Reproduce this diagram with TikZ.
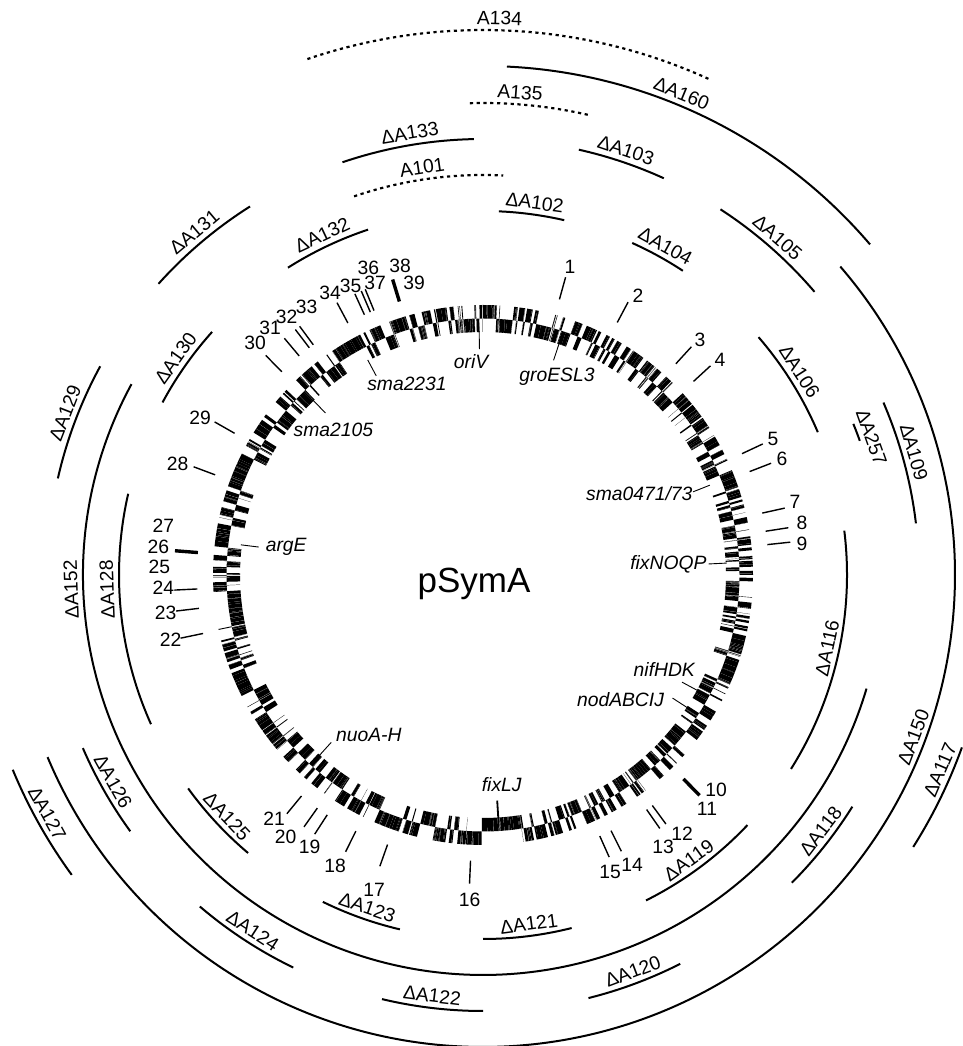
\documentclass[tikz,border=0pt]{standalone}
\usepackage{fontspec}
\setmainfont{Liberation Sans}
\newcommand\myarc[3]{\draw[arcl] (#2:#1) arc[start angle=#2, end angle=#3, radius=#1];}
\newcommand\mydot[3]{\draw[dotl] (#2:#1) arc[start angle=#2, end angle=#3, radius=#1];}
\newcommand\toplab[4]{\node[lab,anchor=base,rotate=#2-90] (#4) at (#2:#1) {#3};}
\newcommand\botlab[4]{\node[lab,anchor=base,rotate=#2+90] (#4) at (#2:#1) {#3};}
\newcommand\ntick[2][]{\draw[tk,#1] (#2:286) -- (#2:309);}
\newcommand\gtick[2][]{\draw[gtk,#1] (#2:226) -- (#2:244);}
\begin{document}
\begin{tikzpicture}[x=1pt,y=1pt,
  arcl/.style={line width=2pt},
  dotl/.style={line width=2.2pt, dash pattern=on 3.2pt off 3.6pt},
  tk/.style={line width=1.4pt},
  gtk/.style={line width=0.9pt},
  thk/.style={line width=3.4pt},
  lab/.style={font=\fontsize{19.3}{21}\selectfont, inner sep=0pt},
  num/.style={font=\fontsize{19.3}{21}\selectfont, inner sep=0pt},
  gene/.style={font=\fontsize{19.3}{21}\selectfont\itshape, inner sep=0pt},
]
\useasboundingbox (0,0) rectangle (962,1046);
\fill[white] (0,0) rectangle (962,1046);
\begin{scope}[shift={(483,471)}]
% ---- gene ring ----
\pgfmathsetseed{11}
\gdef\gA{0}
\gdef\gS{1}
\foreach \i in {1,...,1600}{%
  \pgfmathsetmacro\gu{rnd}%
  \pgfmathsetmacro\gL{0.03+1.2*\gu*\gu*\gu}%
  \pgfmathsetmacro\gv{rnd}%
  \pgfmathsetmacro\gG{0.006+0.06*\gv*\gv*\gv*\gv}%
  \pgfmathsetmacro\gR{rnd}%
  \pgfmathsetmacro\gN{ifthenelse(\gR<0.3,1-\gS,\gS)}%
  \pgfmathsetmacro\gB{\gA+\gL}%
  \ifdim\gB pt<360pt
    \ifdim\gN pt>0.5pt
      \fill (\gA:256.5) -- (\gA:270) -- (\gB:270) -- (\gB:256.5) -- cycle;
    \else
      \fill (\gA:243) -- (\gA:256.5) -- (\gB:256.5) -- (\gB:243) -- cycle;
    \fi
  \fi
  \pgfmathsetmacro\gC{\gB+\gG}%
  \xdef\gA{\gC}%
  \xdef\gS{\gN}%
}
% ---- arcs ----
\mydot{545}{108.8}{65.4}
\myarc{509}{87.3}{40.5}
\mydot{472}{91.6}{76.9}
\myarc{436}{108.8}{91.2}
\myarc{436}{77.3}{65.5}
\myarc{436}{57}{40.5}
\mydot{400}{108.8}{87.1}
\myarc{364}{87.5}{77.1}
\myarc{364}{65.8}{56.7}
\myarc{364}{122.4}{108.4}
\myarc{436}{138.1}{122.3}
\myarc{364}{151.7}{138.1}
\myarc{436}{167.2}{151.4}
\myarc{364}{204.2}{167.1}
\myarc{400}{151.5}{343.5}
\myarc{364}{40.8}{23.1}
\myarc{400}{22.2}{19.6}
\myarc{436}{23.3}{6.8}
\myarc{472}{40.8}{-157.3}
\myarc{364}{7}{-32.2}
\myarc{509}{-19.8}{-32.3}
\myarc{436}{-32.1}{-44.9}
\myarc{364}{-43.4}{-63.4}
\myarc{436}{-63.1}{-76}
\myarc{364}{-75.9}{-90}
\myarc{436}{-90}{-103.4}
\myarc{364}{-103.2}{-116.1}
\myarc{436}{-115.8}{-130.5}
\myarc{364}{-130.2}{-144.1}
\myarc{436}{-144}{-156.6}
\myarc{509}{-143.9}{-157.5}
% ---- arc labels ----
\toplab{550.5}{88.3}{A134}{l134}
\toplab{514.5}{67.6}{ΔA160}{l160}
\toplab{477.5}{85.6}{A135}{l135}
\toplab{441.5}{99.4}{ΔA133}{l133}
\toplab{441.5}{71.4}{ΔA103}{l103}
\toplab{441.5}{48.9}{ΔA105}{l105}
\toplab{405.5}{98.5}{A101}{l101}
\toplab{369.5}{82.1}{ΔA102}{l102}
\toplab{369.5}{61}{ΔA104}{l104}
\toplab{369.5}{115.3}{ΔA132}{l132}
\toplab{441.5}{130.1}{ΔA131}{l131}
\toplab{369.5}{144.8}{ΔA130}{l130}
\toplab{441.5}{158.8}{ΔA129}{l129}
\toplab{369.5}{182.2}{ΔA128}{l128}
\toplab{405.5}{182}{ΔA152}{l152}
\toplab{369.5}{32.7}{ΔA106}{l106}
\toplab{405.5}{19.5}{ΔA257}{l257}
\toplab{441.5}{15.9}{ΔA109}{l109}
\botlab{466.5}{-20.6}{ΔA150}{l150}
\botlab{358.5}{-12}{ΔA116}{l116}
\botlab{503.5}{-23.1}{ΔA117}{l117}
\botlab{430.5}{-37.2}{ΔA118}{l118}
\botlab{358.5}{-54.2}{ΔA119}{l119}
\botlab{430.5}{-69.3}{ΔA120}{l120}
\botlab{358.5}{-82.5}{ΔA121}{l121}
\botlab{430.5}{-96.9}{ΔA122}{l122}
\botlab{358.5}{-109.2}{ΔA123}{l123}
\botlab{430.5}{-122.9}{ΔA124}{l124}
\botlab{358.5}{-136.7}{ΔA125}{l125}
\botlab{430.5}{-150.8}{ΔA126}{l126}
\botlab{503.5}{-151.3}{ΔA127}{l127}
% ---- numbered ticks ----
\ntick{74.5}\ntick{62}\ntick{47.6}\ntick{42.6}\ntick{25.1}\ntick{21.2}
\ntick{12.5}\ntick{8.8}\ntick{6.1}\ntick[thk]{-45.5}\ntick{-53.7}\ntick{-55.1}
\ntick{-63.4}\ntick{-65.9}\ntick{-92.5}\ntick{-109.5}\ntick{-116.4}\ntick{-123}
\ntick{-125.4}\ntick{-129.4}\ntick{191.8}\ntick{186.7}\ntick{182.8}\ntick[thk]{175.5}
\ntick{159.5}\ntick{150.3}\ntick{134.7}\ntick{130}\ntick{127.4}\ntick{126.4}
\ntick{118.2}\ntick{114.5}\ntick{113.2}\ntick{112.4}\ntick[thk]{107}
% ---- gene ticks ----
\gtick{90.9}\gtick{71.8}\gtick{118.2}\gtick{134.2}\gtick{21.6}\gtick{2.8}
\gtick{172.9}\gtick{-28.3}\gtick{-33}\gtick{-132.2}\gtick[line width=1.8pt]{-86.4}
\end{scope}
% ---- numbers ----
\node[num] (n1) at (570,779) {1};
\node[num] (n2) at (638,750) {2};
\node[num] (n3) at (700,706) {3};
\node[num] (n4) at (720,686) {4};
\node[num] (n5) at (773,607) {5};
\node[num] (n6) at (782,587) {6};
\node[num] (n7) at (795,544) {7};
\node[num] (n8) at (802,523) {8};
\node[num] (n9) at (802,502) {9};
\node[num] (n10) at (716,256) {10};
\node[num] (n11) at (707,237) {11};
\node[num] (n12) at (682,212) {12};
\node[num] (n13) at (663,199) {13};
\node[num] (n14) at (632,181) {14};
\node[num] (n15) at (610,174) {15};
\node[num] (n16) at (469.5,146) {16};
\node[num] (n17) at (374,156) {17};
\node[num] (n18) at (335,180.5) {18};
\node[num] (n19) at (309.5,199.3) {19};
\node[num] (n20) at (285.5,209.3) {20};
\node[num] (n21) at (274,227.7) {21};
\node[num] (n22) at (170.7,405.8) {22};
\node[num] (n23) at (165.7,432.8) {23};
\node[num] (n24) at (163.3,458.4) {24};
\node[num] (n25) at (159.3,479.5) {25};
\node[num] (n26) at (158.3,498.8) {26};
\node[num] (n27) at (163.3,519.8) {27};
\node[num] (n28) at (177.7,582.2) {28};
\node[num] (n29) at (200,627.8) {29};
\node[num] (n30) at (255,702.7) {30};
\node[num] (n31) at (270,717.7) {31};
\node[num] (n32) at (286.7,729.3) {32};
\node[num] (n33) at (306.7,739) {33};
\node[num] (n34) at (330,753.3) {34};
\node[num] (n35) at (350.7,760.5) {35};
\node[num] (n36) at (368.3,777.7) {36};
\node[num] (n37) at (375,762.7) {37};
\node[num] (n38) at (400,780) {38};
\node[num] (n39) at (414,763) {39};
% ---- gene labels ----
\node[gene] (oriV) at (471,684.3) {oriV};
\node[gene] (gro) at (557,669.3) {groESL3};
\node[gene] (s2231) at (407,662) {sma2231};
\node[gene] (s2105) at (333.4,616) {sma2105};
\node[gene] (s0471) at (639.3,552.7) {sma0471/73};
\node[gene] (fixN) at (668.4,481.3) {fixNOQP};
\node[gene] (argE) at (286.2,499.3) {argE};
\node[gene] (nif) at (664.3,376) {nifHDK};
\node[gene] (nod) at (620.5,346) {nodABCIJ};
\node[gene] (nuo) at (368.8,311) {nuoA-H};
\node[gene] (fixL) at (501.7,261) {fixLJ};
\node[font=\fontsize{35}{37}\selectfont, inner sep=0pt, anchor=base] (title) at (474,453) {pSymA};
\end{tikzpicture}
\end{document}
